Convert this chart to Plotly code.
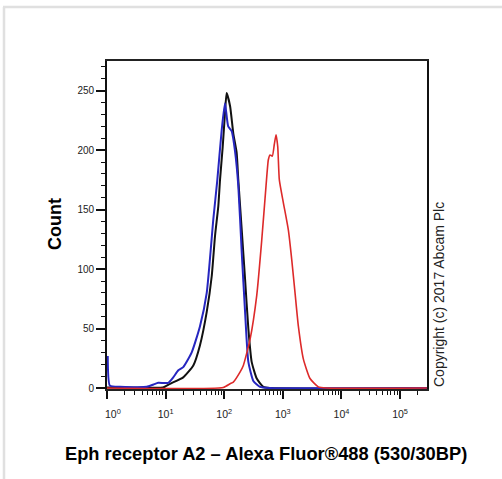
import plotly.graph_objects as go

# ---- data (intensity, count) ----
black_x = [1.0, 5.0, 9.0, 11.9, 20.0, 29.7, 38.6, 50.3, 61.2, 69.7, 79.3, 84.8, 94.3, 103, 110,
           126, 143, 163, 174, 199, 227, 258, 294, 359, 465, 600, 288000]
black_y = [0.5, 0.3, 0.5, 3.6, 9, 19, 36, 64, 94, 128, 153, 175, 203, 231, 248,
           237, 214, 198, 175, 133, 91.5, 50, 22, 8, 1, 0, 0]

blue_x = [1.03, 1.12, 1.67, 4.76, 6.2, 7.5, 11.1, 13.5, 16.5, 20.0, 27.9, 38.6, 50.3, 65.2, 76.3, 90.6,
          103, 117, 134, 153, 174, 199, 227, 258, 314, 408, 600, 288000]
blue_y = [27, 2, 1, 1, 3, 4.4, 4.4, 9, 15, 17.6, 30, 52, 80, 142, 175, 217,
          239.5, 220, 216, 199, 170, 114, 64, 22, 6, 1, 0, 0]

red_x = [1.0, 96.6, 126, 143, 186, 212, 276, 359, 436, 517, 566, 605, 662, 716, 766, 819, 872,
         1020, 1242, 1419, 1616, 1841, 2238, 2911, 4036, 5500, 288000]
red_y = [0, 0.5, 3.6, 5, 13.4, 19, 41, 78, 124, 170, 192, 196, 195, 205, 213, 203, 175,
         156, 133, 108, 80, 52, 24.5, 8, 1, 0, 0]

x_tickvals = [1, 10, 100, 1000, 10000, 100000]
x_ticktext = ["\u00a0\u00a0\u00a0\u00a010<sup>0</sup>", "10<sup>1</sup>", "10<sup>2</sup>",
              "10<sup>3</sup>", "10<sup>4</sup>", "10<sup>5</sup>"]
x_minor = [k * 10 ** n for n in range(0, 6) for k in range(2, 10)]
y_tickvals = [0, 50, 100, 150, 200, 250]

title_x = "Eph receptor A2 \u2013 Alexa Fluor\u00ae488 (530/30BP)"
title_y = "Count"
copyright_text = "Copyright (c) 2017 Abcam Plc"

FONT = "Arial, Liberation Sans, sans-serif"

fig = go.Figure()
fig.add_trace(go.Scatter(x=black_x, y=black_y, mode="lines",
                         line=dict(color="#111111", width=2, shape="spline", smoothing=0.5),
                         showlegend=False))
fig.add_trace(go.Scatter(x=blue_x, y=blue_y, mode="lines",
                         line=dict(color="#2626c0", width=2, shape="spline", smoothing=0.5),
                         showlegend=False))
fig.add_trace(go.Scatter(x=red_x, y=red_y, mode="lines",
                         line=dict(color="#dd2a2a", width=1.6, shape="spline", smoothing=0.5),
                         showlegend=False))

W, H = 502, 479
L, R, T, B = 107, 427, 61, 389
pw, ph = R - L, B - T

def px(xp):
    return (xp - L) / pw

def py(yp):
    return (B - yp) / ph

fig.update_layout(
    width=W, height=H,
    margin=dict(l=L, r=W - R, t=T, b=H - B),
    paper_bgcolor="white", plot_bgcolor="white",
    font=dict(family=FONT, color="#111111"),
    xaxis=dict(type="log", range=[0, 5.46], showgrid=False, zeroline=False,
               showline=True, linecolor="#222222", linewidth=1.6, mirror=True,
               ticks="outside", ticklen=8, tickwidth=1.6, tickcolor="#111111",
               tickmode="array", tickvals=x_tickvals, ticktext=x_ticktext,
               ticklabelstandoff=7,
               tickfont=dict(size=10.5, color="#222222"),
               minor=dict(tickmode="array", tickvals=x_minor, ticks="outside",
                          ticklen=4, tickwidth=1.2, tickcolor="#111111")),
    yaxis=dict(range=[-0.8, 275], showgrid=False, zeroline=False,
               showline=True, linecolor="#111111", linewidth=1.8, mirror=True,
               ticks="outside", ticklen=9, tickwidth=1.8, tickcolor="#111111",
               tickmode="array", tickvals=y_tickvals,
               tickfont=dict(size=10, color="#222222"),
               minor=dict(dtick=10, ticks="outside", ticklen=4, tickwidth=1.2,
                          tickcolor="#111111")),
    annotations=[
        dict(text="<b>" + title_y + "</b>", xref="paper", yref="paper",
             x=px(55), y=py(224), textangle=-90, showarrow=False,
             xanchor="center", yanchor="middle",
             font=dict(size=18, family=FONT, color="#000000")),
        dict(text="<b>" + title_x + "</b>", xref="paper", yref="paper",
             x=px(265.5), y=py(453), showarrow=False,
             xanchor="center", yanchor="middle",
             font=dict(size=18.3, family=FONT, color="#000000")),
        dict(text=copyright_text, xref="paper", yref="paper",
             x=px(439), y=py(295), textangle=-90, showarrow=False,
             xanchor="center", yanchor="middle",
             font=dict(size=14, family=FONT, color="#222222")),
    ],
    shapes=[
        dict(type="line", xref="paper", yref="paper", x0=px(3), x1=px(502),
             y0=py(7), y1=py(7), line=dict(color="#e0e0e0", width=2.5), layer="below"),
        dict(type="line", xref="paper", yref="paper", x0=px(4), x1=px(4),
             y0=py(7), y1=py(479), line=dict(color="#e0e0e0", width=2.5), layer="below"),
    ],
)

fig.write_html("out.html", config={"displayModeBar": False},
               post_script="document.body.style.margin='0';document.body.style.padding='0';")
